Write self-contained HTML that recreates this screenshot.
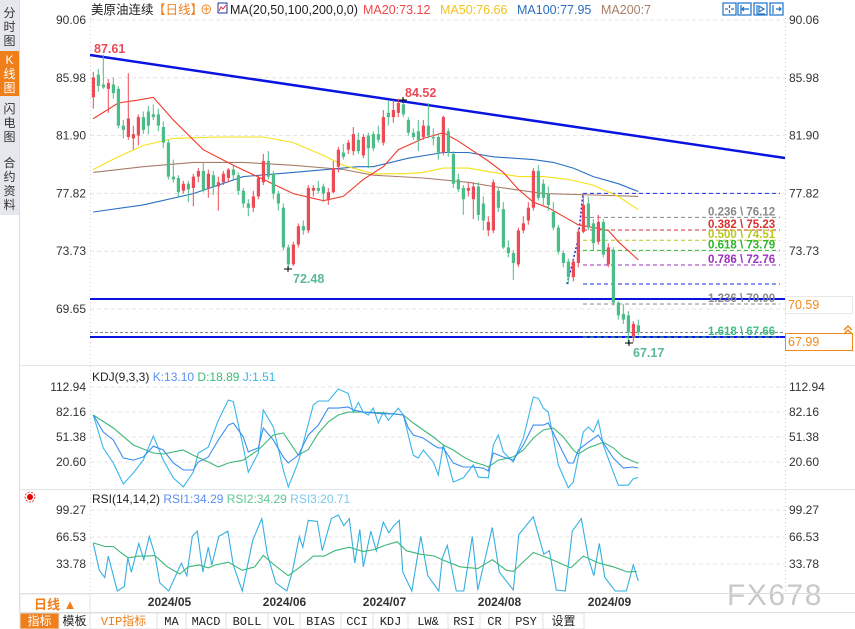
<!DOCTYPE html>
<html><head><meta charset="utf-8"><style>
body{margin:0;background:#fff;width:855px;height:629px;overflow:hidden;font-family:"Liberation Sans","Noto Sans CJK SC",sans-serif}
svg{display:block}
text{font-family:"Liberation Sans","Noto Sans CJK SC",sans-serif}
.mono{font-family:"Liberation Mono","Noto Sans CJK SC",monospace}
</style></head><body>
<svg id="c" width="855" height="629" xmlns="http://www.w3.org/2000/svg">
<rect width="855" height="629" fill="#fff"/>
<g>
<rect x="0" y="0" width="19" height="215" fill="#e6e7ec"/>
<line x1="19.5" y1="0" x2="19.5" y2="612" stroke="#dcdcdc"/>
<g font-size="12" fill="#333" text-anchor="middle"><text x="9.5" y="17">分</text><text x="9.5" y="31">时</text><text x="9.5" y="45">图</text></g>
<rect x="0" y="51" width="19" height="45" fill="#f07f1a"/>
<g font-size="12" fill="#fff" text-anchor="middle"><text x="9.5" y="64">K</text><text x="9.5" y="78">线</text><text x="9.5" y="92">图</text></g>
<g font-size="12" fill="#333" text-anchor="middle"><text x="9.5" y="113">闪</text><text x="9.5" y="127">电</text><text x="9.5" y="141">图</text></g>
<g font-size="12" fill="#333" text-anchor="middle"><text x="9.5" y="167">合</text><text x="9.5" y="181">约</text><text x="9.5" y="195">资</text><text x="9.5" y="209">料</text></g>
</g>
<g font-size="12.5">
<text x="91" y="14" fill="#222">美原油连续</text>
<text x="153" y="14" fill="#f07f1a">【日线】</text>
<text x="200" y="14" fill="#f07f1a">⊕</text>
<rect x="218" y="3" width="9" height="10" fill="#fff" stroke="#223399"/>
<polyline points="219,11 221,7 223,9 226,5" fill="none" stroke="#e33" stroke-width="1"/>
<text x="230" y="14" fill="#222">MA(20,50,100,200,0,0)</text>
<text x="363" y="14" fill="#f04848">MA20:73.12</text>
<text x="440" y="14" fill="#f0c419">MA50:76.66</text>
<text x="517" y="14" fill="#2a70c0">MA100:77.95</text>
<text x="601" y="14" fill="#a87d6a">MA200:7</text>
<g stroke="#1a72c9" fill="none" stroke-width="1.2">
<rect x="723" y="3" width="13" height="12"/>
<rect x="738" y="3" width="13" height="12"/>
<rect x="754" y="3" width="13" height="12"/>
<rect x="770" y="3" width="13" height="12"/>
<path d="M729.5 5v3M729.5 10v3M725 9h3M731 9h3M741 5v9M741 9h8M744 7l-2 2 2 2M757 5v9M757 14h8M759 6v6l5-3zM773 5v9M776 9h5M779 7l2 2-2 2"/>
</g>
</g>
<g id="grid"></g>
<g id="axes"></g>
<g id="main"></g>
<g id="kdj"></g>
<g id="rsi"></g>
<text x="92" y="381" font-size="12" fill="#222">KDJ(9,3,3) <tspan fill="#5b8ff0">K:13.10</tspan>  <tspan fill="#3cb878">D:18.89</tspan>  <tspan fill="#35b5e8">J:1.51</tspan></text>
<text x="92" y="503" font-size="12" fill="#222">RSI(14,14,2) <tspan fill="#5b8ff0">RSI1:34.29</tspan>  <tspan fill="#5cc890">RSI2:34.29</tspan>  <tspan fill="#7cc8ee">RSI3:20.71</tspan></text>
<g><circle cx="30" cy="497" r="3" fill="#e00"/><circle cx="30" cy="497" r="5" fill="none" stroke="#e00" stroke-width="0.8" stroke-dasharray="2 1.5"/></g>
<text x="727" y="605" font-size="30" fill="#c8c8c8" letter-spacing="1.5">FX678</text>
<line x1="19" y1="593.5" x2="855" y2="593.5" stroke="#ddd"/>
<rect x="20" y="594" width="70" height="21" fill="#fff" stroke="#e3e3e3"/>
<text x="34" y="609" font-size="13" font-weight="bold" fill="#f07f1a">日线 ▲</text>
<g id="dates" font-size="12" font-weight="bold" fill="#333"></g>
<g id="toolbar"></g>
</svg>
<script>
const opens=[84.6,86.2,85.5,85.2,85.5,85.2,82.6,81.8,81.7,81.9,83.2,83.6,83.4,83.4,82.5,81.4,79.0,78.9,78.0,78.5,78.2,79.0,79.4,78.2,79.1,78.3,78.6,78.9,79.5,79.1,78.0,77.1,76.8,77.6,78.6,80.1,79.2,77.8,76.8,74.0,72.8,74.2,75.5,75.2,78.0,78.2,78.3,77.4,77.9,79.7,80.7,80.9,80.8,81.6,80.5,81.9,82.0,82.0,81.4,83.5,83.2,83.5,84.1,83.0,82.1,82.2,81.8,82.6,81.8,81.8,80.7,82.2,80.6,78.8,78.2,78.0,77.4,78.3,77.1,75.2,75.2,78.0,76.7,74.0,73.6,72.8,75.2,75.9,76.8,79.4,78.5,77.8,76.5,75.4,73.6,73.0,71.9,72.9,75.1,77.1,75.7,74.4,75.8,72.8,73.8,70.1,69.3,69.2,67.7,68.5];
const closes=[86.0,85.4,85.3,85.6,84.9,82.6,82.3,83.1,82.0,83.2,82.3,82.6,83.2,82.6,81.4,79.0,78.8,77.9,78.5,78.1,79.0,79.4,78.0,79.2,78.3,78.6,79.2,79.5,79.1,78.0,77.1,76.8,77.6,78.9,80.1,79.0,77.8,77.1,74.0,72.8,74.2,75.5,75.2,78.2,78.2,78.0,77.8,77.9,79.6,80.9,80.4,81.4,82.0,80.8,81.8,81.0,81.0,81.6,83.2,83.2,83.7,84.2,83.4,82.1,81.8,81.6,82.6,81.9,81.7,80.7,83.2,80.7,78.5,78.1,77.4,78.2,78.3,76.3,75.9,75.8,78.6,76.8,74.0,73.6,72.9,75.2,75.7,76.8,79.4,77.5,77.5,77.0,75.4,73.7,72.9,71.9,73.0,75.1,77.0,75.4,74.3,75.8,73.5,74.0,70.1,69.2,68.9,68.0,68.6,68.0];
const highs=[86.4,86.6,87.61,85.9,86.0,85.4,83.0,86.3,82.6,83.4,83.6,84.0,84.1,83.8,82.9,81.6,80.2,79.1,78.7,78.7,79.2,79.6,80.0,79.5,79.4,79.0,79.4,79.6,79.8,79.3,78.2,77.4,78.0,79.1,80.6,80.8,79.4,78.0,77.1,74.2,74.4,75.7,75.9,78.4,78.4,78.7,78.5,78.2,80.1,81.1,81.3,81.6,82.5,82.1,82.0,82.1,82.2,82.6,83.7,84.4,84.4,84.5,84.52,83.2,82.4,83.0,83.0,84.2,82.4,82.0,83.3,82.4,80.8,79.2,78.4,78.6,78.6,78.6,77.6,76.2,78.8,78.2,77.2,74.5,73.8,75.4,76.2,77.2,79.6,79.8,78.8,78.3,77.2,75.6,73.8,73.2,73.2,75.3,77.82,77.6,76.0,76.3,76.0,74.3,74.0,70.2,70.0,69.5,68.8,68.9];
const lows=[83.8,85.0,85.2,83.5,84.5,82.4,81.7,81.6,80.9,81.2,82.0,82.0,83.0,82.2,81.0,78.8,78.6,77.6,77.8,77.2,76.9,78.6,77.9,77.5,77.7,76.6,78.4,78.6,78.8,77.7,76.8,76.2,76.5,77.4,78.4,78.8,77.4,76.6,73.8,72.48,72.7,74.0,74.9,75.0,77.6,77.8,77.2,77.0,77.8,79.3,80.2,80.6,80.5,80.6,80.3,79.6,80.8,81.4,81.2,82.6,82.8,83.2,83.2,81.9,81.6,80.8,81.6,81.7,81.2,80.2,80.5,80.4,78.2,77.9,76.3,77.6,76.0,75.9,75.2,74.8,75.0,76.5,73.9,73.3,71.7,72.6,75.0,75.6,76.6,77.3,77.0,76.6,75.2,73.5,72.6,71.4,71.6,72.6,75.0,75.2,73.8,74.2,73.3,72.6,69.9,68.9,68.6,67.17,67.3,67.8];
const ma20Idx=[0,5,9,12,16,22,28,34,40,46,50,54,58,61,66,70,73,76,79,82,85,88,91,94,97,100,103,105,109];
const ma20Val=[83.1,84.2,84.4,84.6,83.0,80.9,79.8,78.8,77.8,77.3,77.6,78.8,79.7,80.9,81.7,82.1,81.5,80.8,80.1,79.3,78.1,77.2,76.8,76.2,75.6,75.4,75.2,74.4,73.12];
const ma50Idx=[0,5,10,16,25,34,40,46,50,56,62,66,70,75,80,85,90,95,100,105,109];
const ma50Val=[79.5,80.4,81.2,81.7,81.8,81.8,81.4,80.5,79.8,79.2,79.2,79.3,79.6,79.6,79.3,79.0,79.0,78.8,78.4,77.6,76.66];
const ma100Idx=[0,10,20,30,40,53,56,63,70,75,80,88,92,96,100,105,109];
const ma100Val=[76.5,77.0,77.8,79.0,79.3,79.7,79.7,80.3,80.7,80.7,80.4,80.2,80.0,79.6,79.0,78.5,77.95];
const ma200Idx=[0,10,20,30,40,50,56,66,75,80,90,100,109];
const ma200Val=[79.3,79.7,80.0,80.0,79.8,79.5,79.1,78.9,78.6,78.3,77.8,77.7,77.6];
const kIdx=[0,2,4,6,8,10,12,14,16,18,20,21,23,25,27,28,30,31,33,34,36,38,39,41,43,45,47,49,51,52,54,56,58,60,62,63,64,66,68,69,70,72,74,76,78,79,80,82,84,86,88,90,91,93,95,96,97,99,101,102,104,106,108,109];
const kVal=[78.5,57.5,47.7,25.5,23,26.8,40,35.4,19.4,10.8,10.8,20.6,26.8,47.7,66,68.6,51.4,33,38,62.5,47.7,26.8,19.4,29,53.8,66,87,87,88.3,84.6,82,81,80,80,78.5,62.5,53.8,50,41.5,38,38,19.4,14.4,14.4,13,9.5,31.7,26.8,23,41.5,66,66,68.6,44,19.4,19.4,35.4,45,53.8,44,25.5,13.2,14.4,13.1];
const dIdx=[0,4,8,12,14,16,18,20,23,25,27,30,33,36,38,41,43,45,47,49,51,54,58,62,64,66,68,70,72,74,76,78,79,81,84,86,88,90,92,94,96,97,99,102,104,106,109];
const dVal=[78.5,62.5,41.5,31.7,30.5,33,35.4,29,20.6,14.4,19.4,23,35.4,53.8,56.3,29,36,56,70,78.5,82,82,81,78.5,68.6,60,51.4,41.5,35.4,27,20.6,17,14.4,23,26.8,35.4,50,60,62.5,51.4,35.4,30.5,38,45,38,26.8,18.89];
const jIdx=[0,2,4,6,8,10,12,14,16,18,20,21,23,25,27,28,30,31,33,34,36,38,39,41,44,45,47,49,51,52,53,54,55,56,57,58,59,61,62,64,65,66,68,69,70,72,74,76,77,79,80,81,82,84,86,88,89,90,91,92,93,95,96,98,99,100,101,102,104,105,107,108,109];
const jVal=[78.5,37.8,19.4,-6.5,7,23,52.6,23,1,-10,8,31.7,39,72,96.9,95,39,8,31.7,84.6,63.7,10.8,-10,20.6,90.8,95.7,95.7,110.5,105,82,94,82,78.5,87,68.6,82,72,87,78.5,29,25.5,35.4,20.6,4.6,41.5,-4,1,17,2,1,41.5,53.8,33,20.6,50,100.6,99,87,82,50,17,-11,-4,57.5,63.7,57.5,72,41.5,8,-8,-8,0,1.51];
const rsiAIdx=[0,1.2,2.3,3,4.8,6.2,6.9,7.6,9.1,10.1,11.2,12.3,13.3,15.1,17.6,18.7,19.8,20.8,21.9,23,23.7,25.1,26.9,28,29.8,31.9,33.7,34.8,36.5,38.7,39.8,41.2,41.9,43,44.8,45.8,47.6,49,50.1,51.2,52.3,53.3,54,55.5,56.6,58,59.1,60.1,61.2,61.9,63.7,65.5,66.9,69.1,69.8,70.8,72.6,74.1,75.8,76.9,79.8,81.2,84,85.1,88,90.1,91.2,92.6,94.4,95.8,97.6,99,100.1,101.2,102.3,104.4,106.6,108,109];
const rsiAVal=[58.6,26.1,17.4,43.4,0,6.6,41.2,23.9,58.6,39.1,67.2,45.6,10.9,0,34.7,19.6,67.2,73.7,23.9,54.2,32.6,67.2,73.7,32.6,0,62.9,88.9,45.6,10.9,0,23.9,67.2,54.2,86.7,85.4,49.9,88.9,93.2,80.2,88.9,34.7,75.9,30.4,73.7,49.9,84.6,71.6,80.2,86.7,23.9,0,67.2,19.6,0,41.2,56.4,0,0,67.2,2.2,78,23.9,2.2,69.4,91,45.6,49.9,2.2,0,73.7,88.9,41.2,19.6,58.6,17.4,0,0,32.6,13];
const rsiBIdx=[0,2.3,4,5.5,7,9,10.8,12.3,14.8,17.3,19,21.2,23,24.4,27,29.8,32.3,34,36.2,39,41.9,44,46.2,48.3,51.2,54,56.2,58.3,60.8,62.6,65.5,68.3,69.8,73.3,76.9,79.8,82.6,84,88,91.2,95.5,98,101.2,104,106.9,108.7];
const rsiBVal=[59.4,55,55,47.7,41.2,43.4,43.4,44,30.4,21.7,30.4,32.6,29,32.6,36,26.1,30.4,44.3,32.6,19.6,32.6,43.4,43.4,49.9,54.2,49,51.4,56.4,60.7,49.9,45.6,43.4,39,30.4,28.2,39,26.1,24.8,47.7,40.4,29.1,43.4,34.7,30.4,23.9,24.8];
const priceTicks=["90.06","85.98","81.90","77.82","73.73","69.65"];
const kdjTicks=["112.94","82.16","51.38","20.60"];
const rsiTicks=["99.27","66.53","33.78"];
const dateLabels=["2024/05","2024/06","2024/07","2024/08","2024/09"];
const dateIdx=[15.3,38.3,58.3,81.3,103.3];
const fibRatios=["0.236","0.382","0.500","0.618","0.786","1.236","1.618"];
const fibPrices=[76.12,75.23,74.51,73.79,72.76,70.00,67.66];
const fibColors=["#888","#d93030","#b8c81a","#2bb52b","#9b30c0","#888","#3cbf80"];
const toolNames=["指标","模板","VIP指标","MA","MACD","BOLL","VOL","BIAS","CCI","KDJ","LW&","RSI","CR","PSY","设置"];
const toolEdges=[20,59,90,157,186,226,268,300,341,373,408,448,480,509,543,584];

const NS="http://www.w3.org/2000/svg";
function mk(tag,attrs,parent){const e=document.createElementNS(NS,tag);for(const k in attrs)e.setAttribute(k,attrs[k]);parent.appendChild(e);return e;}
const X0=90,X1=785;
const xC=i=>93.3+5*i;
const yP=p=>20+(90.06-p)*14.16;
const yK=v=>462-(v-20.6)*0.8122;
const yR=v=>Math.min(591,564-(v-33.78)*0.8244);
const G=document.getElementById('grid'),A=document.getElementById('axes'),M=document.getElementById('main'),K=document.getElementById('kdj'),R=document.getElementById('rsi');

mk('line',{x1:X0+.5,y1:18,x2:X0+.5,y2:592,stroke:'#ccc','stroke-dasharray':'1 3'},G);
mk('line',{x1:X1+.5,y1:18,x2:X1+.5,y2:592,stroke:'#ccc','stroke-dasharray':'1 3'},G);
mk('line',{x1:19,y1:365.5,x2:855,y2:365.5,stroke:'#dde6ea'},G);
mk('line',{x1:19,y1:489.5,x2:855,y2:489.5,stroke:'#dde6ea'},G);
function ticks(labels,yf,name){
  labels.forEach((t,j)=>{
    const y=yf(parseFloat(t));
    const gl=mk('line',{x1:X0,y1:y,x2:X1,y2:y,stroke:'#e4e4e4','stroke-dasharray':'4 3'},G);
    
    
    const l=mk('text',{x:86,y:y+4,'font-size':12,fill:'#333','text-anchor':'end'},A);l.textContent=t;
    
    
    const r=mk('text',{x:789,y:y+4,'font-size':12,fill:'#333'},A);r.textContent=t;
    
    
  });
}
ticks(priceTicks,yP,'price');ticks(kdjTicks,yK,'kdj');ticks(rsiTicks,yR,'rsi');

const s1=mk('line',{x1:X0,y1:299,x2:X1,y2:299,stroke:'#0a14e0','stroke-width':2},M);


mk('line',{x1:X0,y1:332.5,x2:X1,y2:332.5,stroke:'#888','stroke-dasharray':'3 2'},M);
const s2=mk('line',{x1:X0,y1:337,x2:X1,y2:337,stroke:'#0a14e0','stroke-width':2},M);


const tl=mk('line',{x1:X0,y1:55,x2:X1,y2:158,stroke:'#0a14e0','stroke-width':2.5},M);



const FX0=583,FX1=780;
mk('line',{x1:FX0,y1:yP(77.82),x2:FX1,y2:yP(77.82),stroke:'#1a2ee0','stroke-dasharray':'4 3'},M);
mk('line',{x1:FX0,y1:284,x2:FX1,y2:284,stroke:'#1a2ee0','stroke-dasharray':'4 3'},M);
mk('line',{x1:FX0,y1:304,x2:FX1,y2:304,stroke:'#888','stroke-dasharray':'4 3'},M);
mk('polyline',{points:`567,284 572,265 578,240 583,${yP(77.82)}`,fill:'none',stroke:'#1a2ee0','stroke-dasharray':'2 2','stroke-width':1.5},M);
fibPrices.forEach((p,j)=>{
  const y=yP(p);
  const ln=mk('line',{x1:FX0,y1:y,x2:FX1,y2:y,stroke:fibColors[j],'stroke-dasharray':'4 3'},M);
  
  
  const t=mk('text',{x:708,y:y-2,'font-size':11.5,'font-weight':'bold',fill:fibColors[j]},M);
  t.textContent=fibRatios[j]+' \\ '+p.toFixed(2);
  
  
});

function maLine(idx,val,color,name){
  const pts=idx.map((i,j)=>xC(i).toFixed(1)+','+yP(val[j]).toFixed(1)).join(' ');
  const pl=mk('polyline',{points:pts,fill:'none',stroke:color,'stroke-width':1.1},M);
  
  
}
maLine(ma200Idx,ma200Val,'#a87d6a','ma200-line');
maLine(ma100Idx,ma100Val,'#2a70c0','ma100-line');
maLine(ma50Idx,ma50Val,'#f5e11a','ma50-line');
maLine(ma20Idx,ma20Val,'#f03a2a','ma20-line');

closes.forEach((c,i)=>{
  const o=opens[i],up=c>=o,col=up?'#ee4a55':'#4cbc88',x=xC(i);
  const w=mk('line',{x1:x,y1:yP(highs[i]),x2:x,y2:yP(lows[i]),stroke:col,'stroke-width':1},M);
  
  
  const top=yP(Math.max(o,c)),h=Math.max(1,Math.abs(yP(o)-yP(c)));
  const b=mk('rect',{x:x-1.5,y:top,width:3.2,height:h,fill:col},M);
  
  
});

function ann(txt,x,y,col,name){const t=mk('text',{x:x,y:y,'font-size':12.5,'font-weight':'bold',fill:col},M);t.textContent=txt;
  
  }
ann('87.61',94,53,'#ee4a55','high-label');
ann('84.52',405,97,'#ee4a55','swing-high-label');
ann('72.48',293,283,'#5ab89a','swing-low-label');
ann('67.17',633,357,'#5ab89a','low-label');
mk('path',{d:'M284 269h8M288 266v6M625 343h8M629 340v6',stroke:'#000'},M);
mk('path',{d:'M399 100h8M403 97v6',stroke:'#000'},M);
const pb1=mk('rect',{x:785.5,y:296.5,width:67,height:17,fill:'#fff',stroke:'#e8e8e8'},M);


const t1=mk('text',{x:788,y:309,'font-size':12.5,fill:'#f08a1a'},M);t1.textContent='70.59';
const pb2=mk('rect',{x:785.5,y:333.5,width:67,height:17,fill:'#fff',stroke:'#f08a1a'},M);


const t2=mk('text',{x:788,y:346,'font-size':12.5,fill:'#f08a1a'},M);t2.textContent='67.99';
mk('path',{d:'M844 330l4-4 4 4M844 334l4-4 4 4',fill:'none',stroke:'#f08a1a','stroke-width':1.5},M);

function ind(idx,val,yf,color,parent,name){
  const pts=idx.map((i,j)=>xC(i).toFixed(1)+','+yf(val[j]).toFixed(1)).join(' ');
  const pl=mk('polyline',{points:pts,fill:'none',stroke:color,'stroke-width':1.1},parent);
  
  
}
ind(jIdx,jVal,yK,'#38b6ea',K,'kdj-j-line');
ind(dIdx,dVal,yK,'#3cb878',K,'kdj-d-line');
ind(kIdx,kVal,yK,'#3d8ef0',K,'kdj-k-line');
ind(rsiAIdx,rsiAVal,yR,'#35b0e0',R,'rsi-fast-line');
ind(rsiBIdx,rsiBVal,yR,'#3cb878',R,'rsi-slow-line');

const D=document.getElementById('dates');
dateLabels.forEach((d,j)=>{
  const x=xC(dateIdx[j]);
  const t=mk('text',{x:x-22,y:606},D);t.textContent=d;
  
  
});
const T=document.getElementById('toolbar');
mk('line',{x1:19,y1:612.5,x2:855,y2:612.5,stroke:'#ddd'},T);
toolNames.forEach((n,j)=>{
  const x0=toolEdges[j],x1=toolEdges[j+1];
  const r=mk('rect',{x:x0,y:613,width:x1-x0,height:16,fill:j===0?'#f07f1a':'#fff',stroke:'#e0e0e0'},T);
  
  
  const t=mk('text',{x:(x0+x1)/2,y:625,'font-size':12,'text-anchor':'middle',class:'mono',fill:j===0?'#fff':(j===2?'#f07f1a':'#222')},T);
  t.textContent=n;
  
  
});
</script>
</body></html>
